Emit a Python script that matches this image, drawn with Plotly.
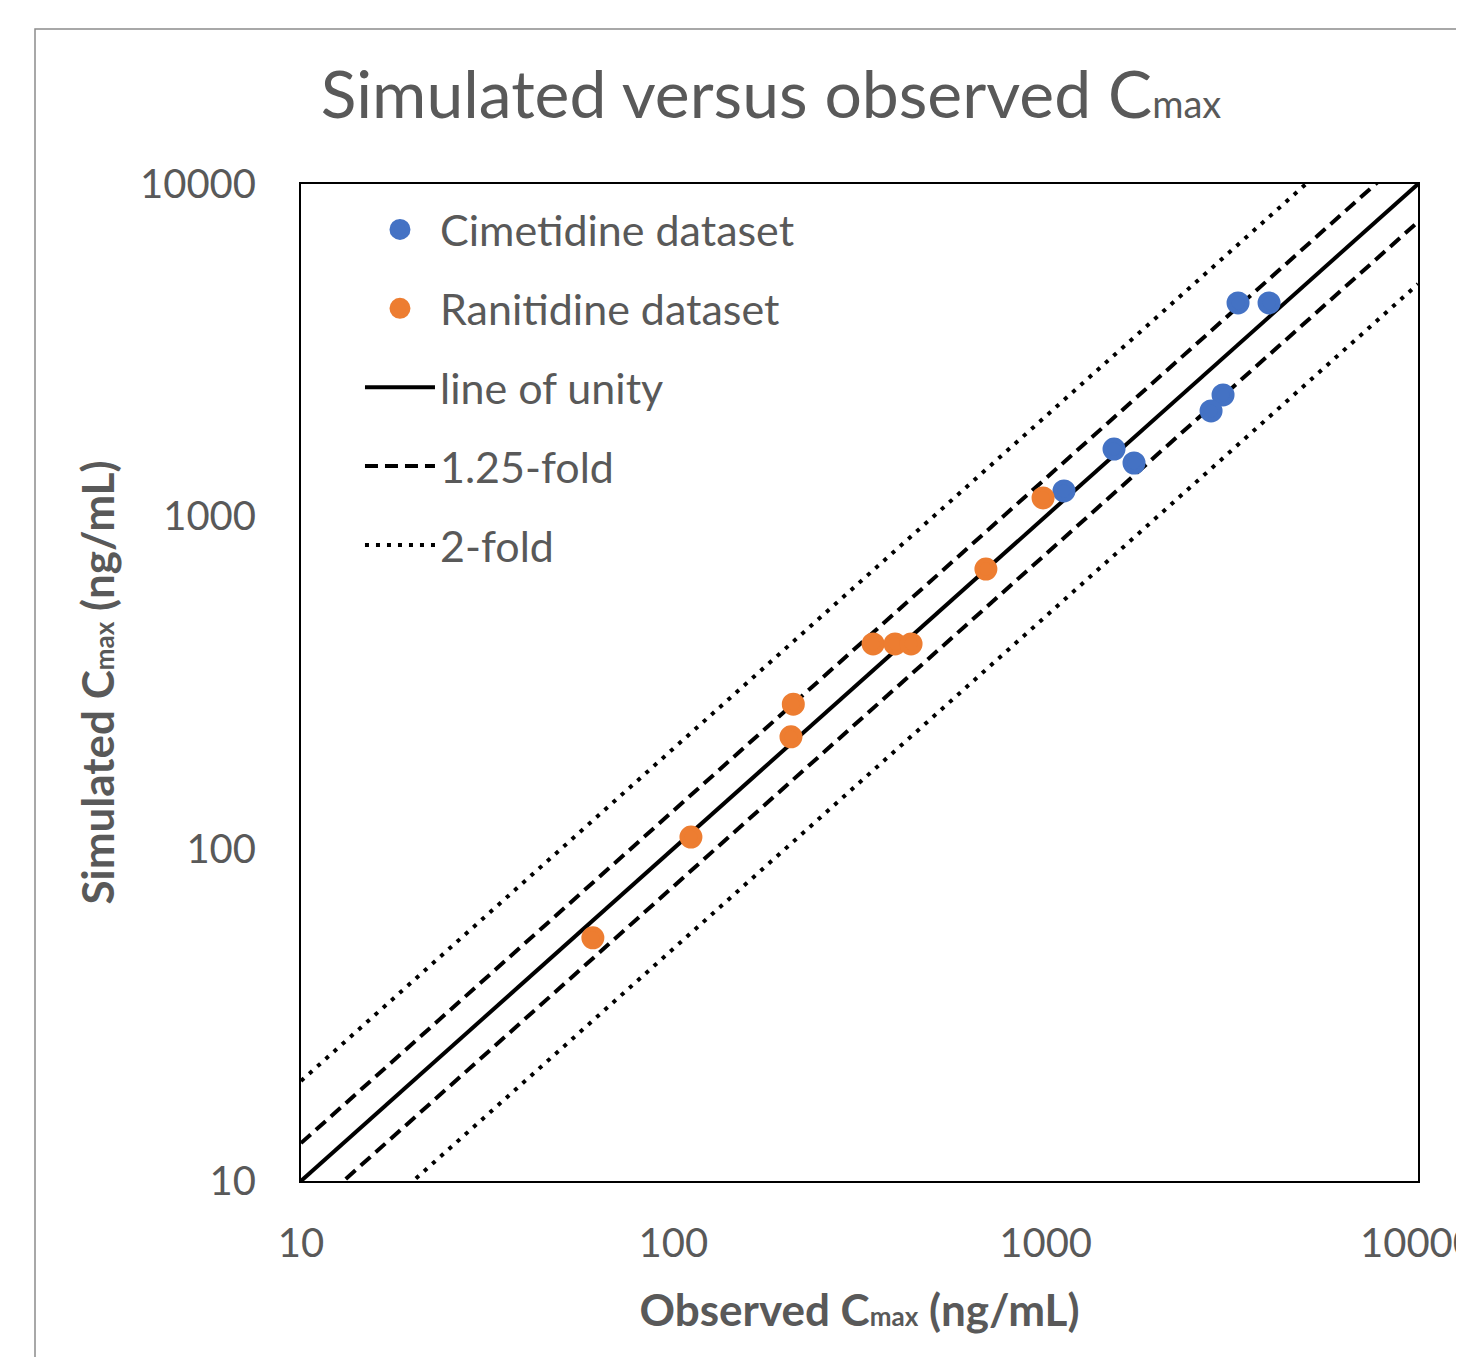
import plotly.graph_objects as go

# ---- data ----
cimetidine_obs = [3286, 3981, 2995, 2781, 1526, 1727, 1120]
cimetidine_sim = [4385, 4385, 2318, 2075, 1594, 1447, 1192]
ranitidine_obs = [984, 691, 344, 394, 435, 210, 207, 111.5, 60.8]
ranitidine_sim = [1136, 694, 413, 413, 413, 272, 217, 108.4, 53.9]

axis_range = [10, 10000]
unity_factor = 1.0
dash_factor = 1.3
dot_factor = 2.0
tick_vals = [10, 100, 1000, 10000]
tick_text = ["10", "100", "1000", "10000"]

FONT = "Lato"
GREY = "#595959"

# page body has an 8px margin, compensate
OFF = 8
L, T, PW, PH = 301 - OFF, 184 - OFF, 1117, 997
W, H = 1464, 1357

fig = go.Figure()

line_x = axis_range
fig.add_trace(go.Scatter(
    x=line_x, y=[v * unity_factor for v in line_x], mode="lines", name="line of unity",
    line=dict(color="black", width=4), legendrank=3, legendgroup="c"))
fig.add_trace(go.Scatter(
    x=line_x, y=[v * dash_factor for v in line_x], mode="lines", name="1.25-fold",
    line=dict(color="black", width=4, dash="13px,7px"), legendrank=4, legendgroup="d"))
fig.add_trace(go.Scatter(
    x=line_x, y=[v / dash_factor for v in line_x], mode="lines", name="1.25-fold",
    line=dict(color="black", width=4, dash="13px,7px"), showlegend=False,
    legendrank=4, legendgroup="d"))
fig.add_trace(go.Scatter(
    x=line_x, y=[v * dot_factor for v in line_x], mode="lines", name="2-fold",
    line=dict(color="black", width=4, dash="4px,7px"), legendrank=5, legendgroup="e"))
fig.add_trace(go.Scatter(
    x=line_x, y=[v / dot_factor for v in line_x], mode="lines", name="2-fold",
    line=dict(color="black", width=4, dash="4px,7px"), showlegend=False,
    legendrank=5, legendgroup="e"))

fig.add_trace(go.Scatter(
    x=cimetidine_obs, y=cimetidine_sim, mode="markers", name="Cimetidine dataset",
    marker=dict(color="#4472C4", size=18, line=dict(color="#4472C4", width=5)),
    legendrank=1, legendgroup="a"))
fig.add_trace(go.Scatter(
    x=ranitidine_obs, y=ranitidine_sim, mode="markers", name="Ranitidine dataset",
    marker=dict(color="#ED7D31", size=18, line=dict(color="#ED7D31", width=5)),
    legendrank=2, legendgroup="b"))

axis_common = dict(
    type="log", range=[1, 4], tickvals=tick_vals, ticktext=tick_text,
    showgrid=False, zeroline=False, showline=True, mirror=True,
    linecolor="black", linewidth=2, automargin=False,
    ticks="outside", tickcolor="rgba(0,0,0,0)",
    ticklabeloverflow="allow",
    tickfont=dict(family=FONT, size=40, color=GREY),
)

fig.update_xaxes(**axis_common, ticklen=26,
                 title=dict(text="Observed C<span style='font-size:26px'>max</span> (ng/mL)",
                            font=dict(family=FONT, size=44, color=GREY, weight="bold"),
                            standoff=30))
fig.update_yaxes(**axis_common, ticklen=35,
                 title=dict(text="Simulated C<span style='font-size:26px'>max</span> (ng/mL)",
                            font=dict(family=FONT, size=44, color=GREY, weight="bold"),
                            standoff=12))

fig.update_layout(
    width=W, height=H,
    margin=dict(l=L, r=W - L - PW, t=T, b=H - T - PH, autoexpand=False),
    paper_bgcolor="white", plot_bgcolor="white",
    title=dict(text="Simulated versus observed C<span style='font-size:38px'>max</span>",
               x=(771 - OFF) / W, xanchor="center", y=1 - (95 - OFF) / H, yanchor="middle",
               font=dict(family=FONT, size=66, color=GREY)),
    legend=dict(x=0.0528, y=0.989, xanchor="left", yanchor="top",
                font=dict(family=FONT, size=43, color=GREY),
                itemwidth=70, traceorder="grouped", tracegroupgap=20,
                bgcolor="rgba(0,0,0,0)"),
    showlegend=True,
)

# outer chart border (left and top edges visible)
fig.add_shape(type="rect", xref="paper", yref="paper",
              x0=(35 - 301) / PW, x1=1.4, y0=-0.4, y1=(1181 - 29) / PH,
              line=dict(color="#8c8c8c", width=1.5), layer="below")

fig.write_html("out.html")
